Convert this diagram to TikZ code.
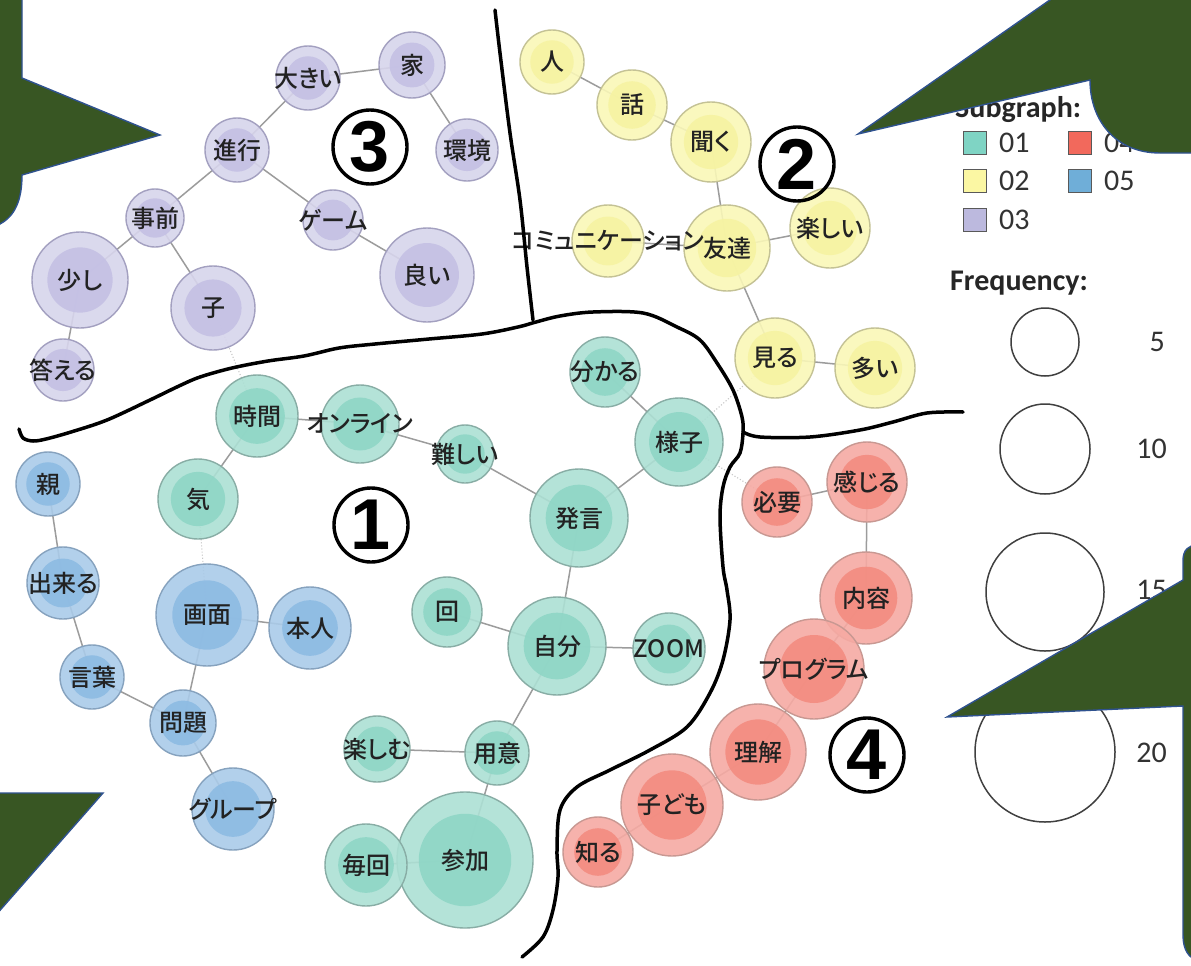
\documentclass[tikz,border=0pt]{standalone}
\usepackage{fontspec}
\IfFontExistsTF{Noto Sans CJK JP Medium}
  {\newfontfamily\jpfont[RawFeature=+palt]{Noto Sans CJK JP Medium}}
  {\newfontfamily\jpfont[RawFeature=+palt, FakeBold=0.6]{Noto Sans CJK JP}}
\newfontfamily\legfont{Carlito}
\newfontfamily\digitfont{Liberation Sans}
\pgfdeclarelayer{paper}
\pgfdeclarelayer{links}
\pgfsetlayers{paper,links,main}

% node colours: L = ring, D = core, B = border, S = legend swatch
\definecolor{AL}{HTML}{ACE0D4}\definecolor{AD}{HTML}{8FD6C6}\definecolor{AB}{HTML}{88ADA5}\definecolor{AS}{HTML}{7FD4C4}
\definecolor{BL}{HTML}{FAF8B8}\definecolor{BD}{HTML}{F6F3A2}\definecolor{BB}{HTML}{C4C295}\definecolor{BS}{HTML}{FBF7A3}
\definecolor{CL}{HTML}{D7D5EC}\definecolor{CD}{HTML}{C4C0E4}\definecolor{CB}{HTML}{A3A0C0}\definecolor{CS}{HTML}{BCB9DE}
\definecolor{DL}{HTML}{F6AAA3}\definecolor{DD}{HTML}{F38C80}\definecolor{DB}{HTML}{C89892}\definecolor{DS}{HTML}{F2695C}
\definecolor{EL}{HTML}{AACBE9}\definecolor{ED}{HTML}{8DBBE3}\definecolor{EB}{HTML}{86A2BE}\definecolor{ES}{HTML}{6FAED8}
\definecolor{labelgray}{HTML}{222222}
\definecolor{edgegray}{HTML}{9C9C9C}
\definecolor{calloutgreen}{HTML}{385623}
\definecolor{calloutblue}{HTML}{2F528F}

\tikzset{
  x=1pt, y=-1pt,
  kwc/.style={circle, inner sep=0pt, line width=1.4pt, fill opacity=0.9},
  kwt/.style={font=\jpfont\fontsize{24}{24}\selectfont, text=labelgray, inner sep=0pt},
  link/.style={draw=edgegray, line width=1.5pt},
  weaklink/.style={draw=black!22, line width=1.1pt, dotted},
  pen/.style={line width=3.5pt, line cap=round, line join=round, black},
  callout/.style={fill=calloutgreen, draw=calloutblue, line width=1.4pt, line join=miter},
  clusterno/.style={circle, draw=black, line width=3.4pt, minimum size=74pt, inner sep=0pt,
    font=\digitfont\bfseries\fontsize{72}{72}\selectfont},
  legsq/.style={rectangle, draw=black!65, line width=1.3pt, minimum size=23pt, inner sep=0pt},
  legtxt/.style={font=\legfont\fontsize{30}{30}\selectfont, text=black!80, inner sep=0pt},
  leghead/.style={font=\legfont\bfseries\fontsize{30}{30}\selectfont, text=black!85, inner sep=0pt},
  legring/.style={circle, draw=black!75, line width=1.5pt, inner sep=0pt},
}

% keyword node: name, x, y, radius, class, label
\newcommand\kw[6]{%
  \node[kwc, fill=#5L, draw=#5B, minimum size={2*#4pt}] (#1) at (#2,#3) {};
  \fill[#5D, fill opacity=0.9] (#1.center) circle[radius={0.68*#4pt}];
  \node[kwt] at (#1.center) {#6};
}

\begin{document}
\begin{tikzpicture}
\begin{pgfonlayer}{paper}
  \fill[white] (0,0) rectangle (1191,966);
\end{pgfonlayer}
\useasboundingbox (0,0) rectangle (1191,966);
\begin{scope}
\clip (0,0) rectangle (1191,966);

% ---- subgraph 03 ----
\kw{ookii}{308}{78}{32}{C}{大きい}
\kw{ie}{412}{65}{33}{C}{家}
\kw{kankyo}{467}{150}{31}{C}{環境}
\kw{shinko}{237}{150}{32}{C}{進行}
\kw{jizen}{155}{218}{29}{C}{事前}
\kw{game}{333}{220}{30}{C}{ゲーム}
\kw{sukoshi}{80}{280}{48}{C}{少し}
\kw{ko}{213}{308}{42}{C}{子}
\kw{yoi}{427}{275}{47}{C}{良い}
\kw{kotaeru}{63}{370}{31}{C}{答える}

% ---- subgraph 02 ----
\kw{hito}{552}{62}{32}{B}{人}
\kw{hanashi}{632}{105}{35}{B}{話}
\kw{kiku}{711}{142}{40}{B}{聞く}
\kw{tomodachi}{727}{248}{43}{B}{友達}
\kw{comm}{608}{241}{36}{B}{コミュニケーション}
\kw{tanoshii}{830}{228}{40}{B}{楽しい}
\kw{miru}{775}{358}{40}{B}{見る}
\kw{ooi}{875}{368}{40}{B}{多い}

% ---- subgraph 01 ----
\kw{jikan}{257}{416}{41}{A}{時間}
\kw{online}{360}{424}{39}{A}{オンライン}
\kw{muzukashii}{465}{454}{29}{A}{難しい}
\kw{wakaru}{605}{372}{35}{A}{分かる}
\kw{yousu}{679}{442}{44}{A}{様子}
\kw{hatsugen}{579}{518}{49}{A}{発言}
\kw{ki}{198}{499}{40}{A}{気}
\kw{kai}{447}{612}{35}{A}{回}
\kw{jibun}{557}{646}{49}{A}{自分}
\kw{zoom}{669}{649}{36}{A}{ZOOM}
\kw{tanoshimu}{377}{749}{33}{A}{楽しむ}
\kw{youi}{497}{753}{32}{A}{用意}
\kw{sanka}{465}{860}{68}{A}{参加}
\kw{maikai}{366}{865}{41}{A}{毎回}

% ---- subgraph 05 ----
\kw{oya}{48}{484}{32}{E}{親}
\kw{dekiru}{63}{583}{36}{E}{出来る}
\kw{kotoba}{92}{677}{32}{E}{言葉}
\kw{gamen}{207}{615}{51}{E}{画面}
\kw{honnin}{310}{628}{41}{E}{本人}
\kw{mondai}{183}{723}{33}{E}{問題}
\kw{group}{233}{809}{41}{E}{グループ}

% ---- subgraph 04 ----
\kw{hitsuyou}{777}{502}{35}{D}{必要}
\kw{kanjiru}{867}{482}{40}{D}{感じる}
\kw{naiyou}{866}{598}{46}{D}{内容}
\kw{program}{814}{669}{50}{D}{プログラム}
\kw{rikai}{758}{752}{48}{D}{理解}
\kw{kodomo}{672}{805}{51}{D}{子ども}
\kw{shiru}{598}{852}{35}{D}{知る}

% ---- co-occurrence links (under the nodes) ----
\begin{pgfonlayer}{links}
\foreach \a/\b in {ookii/ie, ie/kankyo, ookii/shinko, shinko/jizen, shinko/game,
    game/yoi, jizen/sukoshi, jizen/ko, sukoshi/kotaeru,
    hito/hanashi, hanashi/kiku, kiku/tomodachi, comm/tomodachi, tomodachi/tanoshii,
    tomodachi/miru, miru/ooi,
    jikan/online, jikan/ki, online/muzukashii, muzukashii/hatsugen, wakaru/yousu,
    yousu/hatsugen, hatsugen/jibun, kai/jibun, jibun/zoom, jibun/youi,
    tanoshimu/youi, youi/sanka, maikai/sanka,
    oya/dekiru, dekiru/kotoba, kotoba/mondai, gamen/mondai, gamen/honnin, mondai/group,
    hitsuyou/kanjiru, kanjiru/naiyou, naiyou/program, program/rikai, rikai/kodomo,
    kodomo/shiru}
  \draw[link] (\a.center) -- (\b.center);
\foreach \a/\b in {ko/jikan, ki/gamen, yousu/miru, yousu/hitsuyou}
  \draw[weaklink] (\a.center) -- (\b.center);
\end{pgfonlayer}

% ---- cluster numbers ----
\node[clusterno] (no1) at (371,525) {1};
\node[clusterno] (no2) at (797,164) {2};
\node[clusterno] (no3) at (370,147) {3};
\node[clusterno] (no4) at (867,755) {4};

% ---- hand-drawn borders between clusters ----
\draw[pen] plot[smooth, tension=0.55] coordinates {(495,10) (500,53) (510,133) (520,200) (527,267) (533,320)};
\draw[pen] plot[smooth, tension=0.55] coordinates {(19,429) (23,438) (33,441) (46,439) (71,432) (107,420)
  (150,400) (179,386) (200,377) (232,368) (268,361) (304,356) (339,348) (375,344) (429,339)
  (482,334) (518,327) (536,322) (560,316) (593,312) (643,313) (677,327) (700,340) (717,363)
  (733,390) (742,417) (743,433) (740,453) (730,467) (723,487) (720,517) (723,567) (727,590)
  (730,620) (723,660) (710,693) (687,727) (650,750) (610,770) (577,787) (560,810) (557,850)
  (558,877) (553,910) (543,937) (522,957)};
\draw[pen] plot[smooth, tension=0.55] coordinates {(743,432) (760,437) (810,437) (860,430) (893,422) (927,413) (963,412)};

% ---- legend ----
\node[leghead, anchor=base west] (subhead) at (955,117) {Subgraph:};
\node[legsq, fill=AS] (sq1) at (975,143) {};
\node[legsq, fill=BS] (sq2) at (975,181) {};
\node[legsq, fill=CS] (sq3) at (975,220) {};
\node[legsq, fill=DS] (sq4) at (1080,143) {};
\node[legsq, fill=ES] (sq5) at (1080,181) {};
\node[legtxt, anchor=west] at (999,143) {01};
\node[legtxt, anchor=west] at (999,181) {02};
\node[legtxt, anchor=west] at (999,220) {03};
\node[legtxt, anchor=west] at (1104,143) {04};
\node[legtxt, anchor=west] at (1104,181) {05};
\node[leghead, anchor=base west] (freqhead) at (950,290) {Frequency:};
\node[legring, minimum size=68pt] (f5) at (1045,342) {};
\node[legring, minimum size=90pt] (f10) at (1045,449) {};
\node[legring, minimum size=118pt] (f15) at (1045,592) {};
\node[legring, minimum size=140pt] (f20) at (1045,752) {};
\node[legtxt, anchor=east] at (1165,342) {5};
\node[legtxt, anchor=east] at (1167,449) {10};
\node[legtxt, anchor=east] at (1167,590) {15};
\node[legtxt, anchor=east] at (1167,753) {20};

% ---- speech callouts ----
\draw[callout] (-5,-5) -- (22,-5) -- (22,78) -- (160,135) -- (22,175)
  .. controls (22,200) and (15,216) .. (0,224) -- (-5,226) -- cycle;
\draw[callout] (1057,-5) -- (858,134) -- (1090,80)
  .. controls (1090,120) and (1115,153) .. (1160,153) -- (1197,153) -- (1197,-5) -- cycle;
\draw[callout] (947,717) -- (1183,580) -- (1183,560) .. controls (1183,550) and (1189,545) .. (1197,545)
  -- (1197,960) .. controls (1189,958) and (1183,950) .. (1183,935) -- (1183,706) -- cycle;
\draw[callout] (-5,793) -- (103,793) -- (-5,916) -- cycle;
\end{scope}
\end{tikzpicture}
\end{document}
